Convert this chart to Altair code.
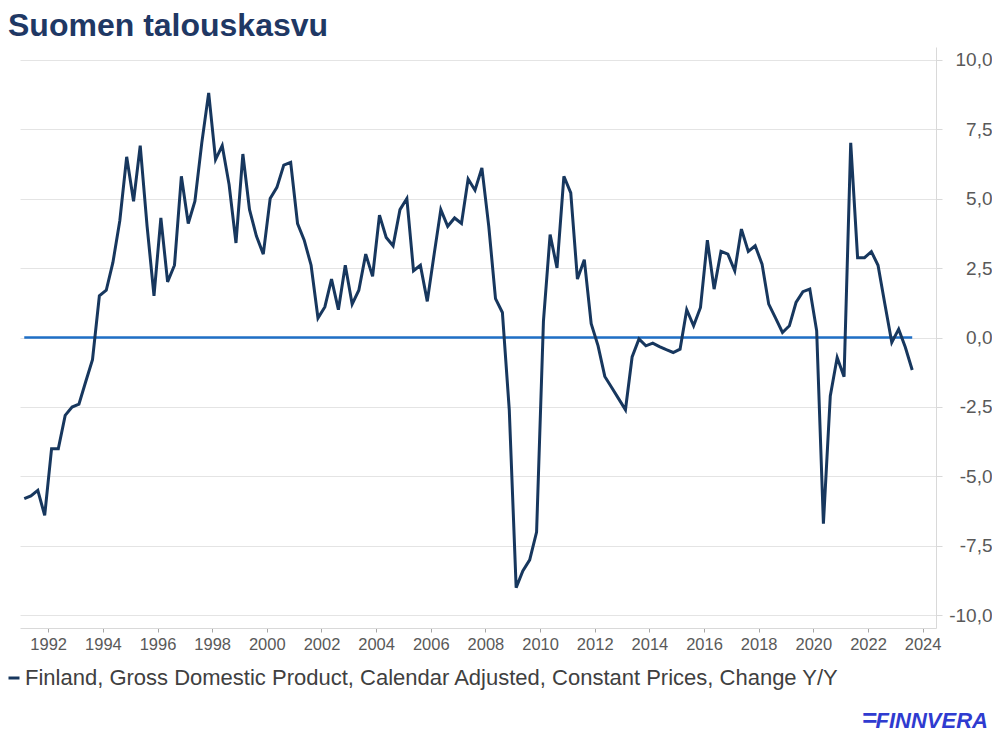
import altair as alt
import pandas as pd

title_text = "Suomen talouskasvu"
series_name = "Finland, Gross Domestic Product, Calendar Adjusted, Constant Prices, Change Y/Y"
logo_text = "FINNVERA"
logo_mark = "="

first_quarter = "1991Q1"
last_quarter = "2023Q3"

gdp_yy = [
    -5.8, -5.7, -5.5, -6.4,   # 1991
    -4.0, -4.0, -2.8, -2.5,   # 1992
    -2.4, -1.6, -0.8, 1.5,    # 1993
    1.7, 2.7, 4.2, 6.5,       # 1994
    4.9, 6.9, 4.0, 1.5,       # 1995
    4.3, 2.0, 2.6, 5.8,       # 1996
    4.1, 4.9, 7.0, 8.8,       # 1997
    6.4, 6.9, 5.5, 3.4,       # 1998
    6.6, 4.6, 3.65, 3.0,      # 1999
    5.0, 5.4, 6.2, 6.3,       # 2000
    4.1, 3.5, 2.6, 0.7,       # 2001
    1.1, 2.1, 1.0, 2.6,       # 2002
    1.2, 1.7, 3.0, 2.2,       # 2003
    4.4, 3.6, 3.3, 4.6,       # 2004
    5.0, 2.4, 2.6, 1.3,       # 2005
    3.0, 4.6, 4.0, 4.3,       # 2006
    4.1, 5.7, 5.3, 6.1,       # 2007
    4.0, 1.4, 0.9, -2.6,      # 2008
    -9.0, -8.4, -8.0, -7.0,   # 2009
    0.6, 3.7, 2.5, 5.8,       # 2010
    5.2, 2.1, 2.8, 0.5,       # 2011
    -0.3, -1.4, -1.8, -2.2,   # 2012
    -2.6, -0.7, -0.05, -0.3,  # 2013
    -0.2, -0.33, -0.44, -0.54,  # 2014
    -0.42, 1.0, 0.42, 1.08,   # 2015
    3.5, 1.74, 3.1, 3.0,      # 2016
    2.4, 3.9, 3.1, 3.3,       # 2017
    2.64, 1.2, 0.7, 0.18,     # 2018
    0.42, 1.26, 1.65, 1.74,   # 2019
    0.24, -6.7, -2.1, -0.72,  # 2020
    -1.41, 7.0, 2.87, 2.87,   # 2021
    3.09, 2.6, 1.2, -0.18,    # 2022
    0.3, -0.35, -1.17,        # 2023
]

y_ticks = [-10, -7.5, -5, -2.5, 0, 2.5, 5, 7.5, 10]
x_tick_years = list(range(1992, 2025, 2))

# quarter mid-points as dates
mid_month = {1: 2, 2: 5, 3: 8, 4: 11}
quarters = pd.period_range(first_quarter, last_quarter, freq="Q")
dates = [f"{q.year}-{mid_month[q.quarter]:02d}-15T00:00:00" for q in quarters]

df = pd.DataFrame({"date": dates, "value": gdp_yy, "series": series_name})
zero_df = pd.DataFrame({"date": dates, "zero": [0.0] * len(dates)})

FONT = "Liberation Sans"
NAVY = "#17375e"
ZERO_BLUE = "#1f6fc6"
LOGO = "#2f3bd0"

x_scale = alt.Scale(
    domain=[alt.DateTime(year=1990, month=12, date=20), alt.DateTime(year=2024, month=6, date=28)]
)
y_scale = alt.Scale(domain=[-10.45, 10.45], nice=False, zero=False)

x_axis = alt.Axis(
    title=None,
    values=[alt.DateTime(year=yy, month=1, date=1) for yy in x_tick_years],
    format="%Y",
    labelFont=FONT,
    labelFontSize=16.5,
    labelColor="#595959",
    labelPadding=4,
    tickSize=4,
    tickColor="#a6a6a6",
    domainColor="#d9d9d9",
    grid=False,
    labelOverlap=False,
)

y_axis = alt.Axis(
    title=None,
    orient="right",
    values=y_ticks,
    labelExpr="(datum.value < 0 ? '-' : '') + replace(format(abs(datum.value), '.1f'), '.', ',')",
    labelFont=FONT,
    labelFontSize=19,
    labelColor="#595959",
    labelAlign="right",
    labelPadding=50,
    tickSize=6,
    tickColor="#d9d9d9",
    domainColor="#d9d9d9",
    grid=True,
    gridColor="#e4e4e4",
    gridWidth=1,
)

zero_line = alt.Chart(zero_df).mark_line(color=ZERO_BLUE, strokeWidth=2.5).encode(
    x=alt.X("date:T", scale=x_scale, axis=x_axis),
    y=alt.Y("zero:Q", scale=y_scale, axis=y_axis),
)

gdp_line = alt.Chart(df).mark_line(strokeWidth=3, strokeJoin="miter").encode(
    x=alt.X("date:T", scale=x_scale, axis=x_axis),
    y=alt.Y("value:Q", scale=y_scale, axis=y_axis),
    color=alt.Color(
        "series:N",
        scale=alt.Scale(domain=[series_name], range=[NAVY]),
        legend=alt.Legend(
            title=None,
            orient="none",
            legendX=-17,
            legendY=620,
            symbolType="stroke",
            symbolStrokeWidth=3,
            symbolSize=121,
            labelFont=FONT,
            labelFontSize=22,
            labelColor="#404040",
            labelLimit=0,
            labelOffset=0,
            padding=0,
        ),
    ),
)

logo_df = pd.DataFrame({"t": [logo_text]})
logo = alt.Chart(logo_df).mark_text(
    font=FONT, fontSize=22, fontWeight="bold", fontStyle="italic",
    color=LOGO, align="right", baseline="alphabetic",
).encode(text="t:N", x=alt.value(968), y=alt.value(681))

mark_df = pd.DataFrame({"t": [logo_mark]})
logo_stripes = alt.Chart(mark_df).mark_text(
    font=FONT, fontSize=26, fontWeight="bold", fontStyle="italic",
    color=LOGO, align="right", baseline="middle",
).encode(text="t:N", x=alt.value(857), y=alt.value(672))

chart = alt.layer(zero_line, gdp_line, logo, logo_stripes).properties(
    width=916,
    height=581,
    title=alt.TitleParams(
        text=title_text,
        anchor="start",
        frame="group",
        font=FONT,
        fontSize=32,
        fontWeight="bold",
        color="#1f3864",
        dx=-12,
        offset=4,
    ),
    autosize=alt.AutoSizeParams(type="none"),
    padding={"left": 12, "top": 39, "right": 56, "bottom": 108},
).configure_view(stroke=None)

chart.save("out.html", embed_options={"renderer": "svg", "actions": False})
